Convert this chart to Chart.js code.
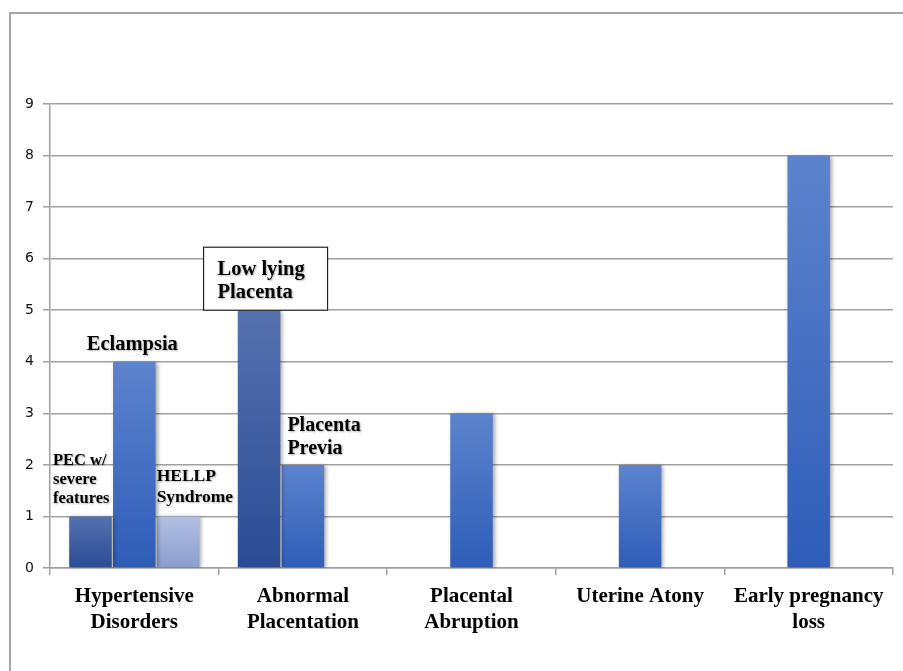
<!DOCTYPE html>
<html>
<head>
<meta charset="utf-8">
<script src="https://cdn.jsdelivr.net/npm/chart.js@4/dist/chart.umd.min.js"></script>
<style>
  html, body { margin: 0; padding: 0; background: #fff; }
  #wrap { position: relative; width: 903px; height: 671px; overflow: hidden; }
  #frame { position: absolute; left: 9px; top: 12px; width: 1000px; height: 1000px;
           border-left: 2px solid #a6a6a6; border-top: 2px solid #a6a6a6; }
  canvas { position: absolute; left: 0; top: 0; }
</style>
</head>
<body>
<div id="wrap">
  <div id="frame"></div>
  <canvas id="chart" width="903" height="671"></canvas>
</div>
<script>
// Causes of pregnancy complications, grouped by category
const categories = [
  ["Hypertensive", "Disorders"],
  ["Abnormal", "Placentation"],
  ["Placental", "Abruption"],
  ["Uterine Atony"],
  ["Early pregnancy", "loss"]
];

// Three bars per category: first sub-type, main sub-type, third sub-type
const firstSubtype = [1, 5, null, null, null];
const mainSubtype  = [4, 2, 3, 2, 8];
const thirdSubtype = [1, null, null, null, null];

// Names written next to individual bars
const firstNotes = [["PEC w/", "severe", "features"], ["Low lying", "Placenta"], null, null, null];
const mainNotes  = [["Eclampsia"], ["Placenta", "Previa"], null, null, null];
const thirdNotes = [["HELLP", "Syndrome"], null, null, null, null];

const yMax = 9;
const yStep = 1;

// Where each note sits relative to its bar (bar centre x, bar top y)
const notePlacement = {
  "0-0": { align: "left",   dx: -37.5, dy: -55.5, size: 16.5, lh: 19 },
  "0-1": { align: "left",   dx: -41.5, dy: -41,   size: 20.5, lh: 23 ,
           box: { left: -55.5, right: 68.5, top: -63, bottom: 0 } },
  "1-0": { align: "center", dx: -2,    dy: -17.5, size: 20.5, lh: 23 },
  "1-1": { align: "left",   dx: -15.5, dy: -39,   size: 20,   lh: 23 },
  "2-0": { align: "left",   dx: -21.5, dy: -39.5, size: 17.5, lh: 21 }
};
const allNotes = [firstNotes, mainNotes, thirdNotes];

// Vertical gradient for each bar, from its top to the baseline
function barGradient(top, bottom) {
  return function (ctx) {
    const chart = ctx.chart;
    const v = ctx.raw;
    if (!chart.chartArea || v == null || !chart.scales.y) return bottom;
    const y = chart.scales.y;
    const y0 = y.getPixelForValue(v);
    const y1 = y.getPixelForValue(0);
    if (!isFinite(y0) || !isFinite(y1) || y0 === y1) return bottom;
    const g = chart.ctx.createLinearGradient(0, y0, 0, y1);
    g.addColorStop(0, top);
    g.addColorStop(1, bottom);
    return g;
  };
}

const barShadow = {
  id: "barShadow",
  beforeDatasetsDraw(chart) {
    const c = chart.ctx;
    c.save();
    c.shadowColor = "rgba(0,0,0,0.35)";
    c.shadowBlur = 4;
    c.shadowOffsetX = 2;
    c.shadowOffsetY = 1;
  },
  afterDatasetsDraw(chart) {
    chart.ctx.restore();
  }
};

const barNotes = {
  id: "barNotes",
  afterDatasetsDraw(chart) {
    const c = chart.ctx;
    allNotes.forEach((notes, di) => {
      const meta = chart.getDatasetMeta(di);
      notes.forEach((lines, ci) => {
        if (!lines) return;
        const bar = meta.data[ci];
        const p = notePlacement[di + "-" + ci];
        if (!bar || !p) return;
        c.save();
        if (p.box) {
          c.fillStyle = "#fff";
          c.strokeStyle = "#222";
          c.lineWidth = 1.2;
          const bx = bar.x + p.box.left, by = bar.y + p.box.top;
          const bw = p.box.right - p.box.left, bh = p.box.bottom - p.box.top;
          c.fillRect(bx, by, bw, bh);
          c.strokeRect(bx, by, bw, bh);
        }
        c.font = "bold " + p.size + "px 'Liberation Serif', 'Times New Roman', serif";
        c.fillStyle = "#000";
        c.textAlign = p.align;
        c.textBaseline = "middle";
        c.shadowColor = "rgba(0,0,0,0.3)";
        c.shadowBlur = 2;
        c.shadowOffsetX = 1;
        c.shadowOffsetY = 1;
        lines.forEach((t, k) => {
          c.fillText(t, bar.x + p.dx, bar.y + p.dy + k * p.lh);
        });
        c.restore();
      });
    });
  }
};

new Chart(document.getElementById("chart"), {
  type: "bar",
  data: {
    labels: categories,
    datasets: [
      { data: firstSubtype, backgroundColor: barGradient("#5571af", "#2a4c95") },
      { data: mainSubtype,  backgroundColor: barGradient("#5c83cd", "#2e5db8") },
      { data: thirdSubtype, backgroundColor: barGradient("#b2c0e2", "#8b9dcd") }
    ]
  },
  options: {
    responsive: false,
    animation: false,
    events: [],
    categoryPercentage: 0.78,
    barPercentage: 0.97,
    layout: { padding: { top: 104, right: 10, left: 0, bottom: 0 } },
    plugins: { legend: { display: false }, tooltip: { enabled: false } },
    scales: {
      x: {
        grid: { offset: true, drawOnChartArea: false, color: "#a0a0a0", tickLength: 7, lineWidth: 1.5 },
        border: { color: "#a0a0a0", width: 1.5 },
        ticks: {
          color: "#000",
          padding: 8,
          maxRotation: 0,
          autoSkip: false,
          font: { family: "'Liberation Serif', 'Times New Roman', serif", size: 21, weight: "bold", lineHeight: 1.25 }
        },
        afterFit(scale) { scale.height = 103; }
      },
      y: {
        min: 0,
        max: yMax,
        grid: { color: "#a0a0a0", tickLength: 7, lineWidth: 1.5 },
        border: { color: "#a0a0a0", width: 1.5 },
        ticks: {
          stepSize: yStep,
          color: "#111",
          padding: 9,
          font: { family: "'DejaVu Sans', Verdana, sans-serif", size: 14 }
        },
        afterFit(scale) { scale.width = 50; }
      }
    }
  },
  plugins: [barShadow, barNotes]
});
</script>
</body>
</html>
